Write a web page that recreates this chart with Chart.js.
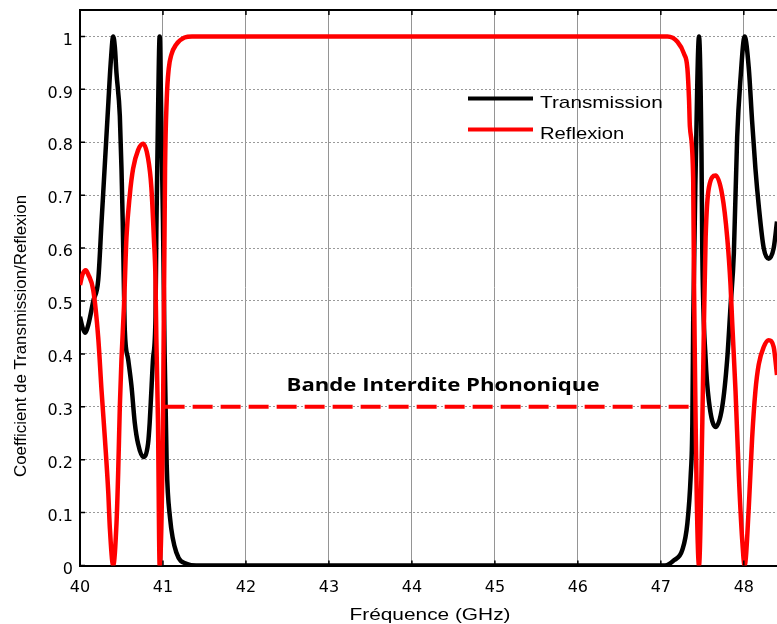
<!DOCTYPE html>
<html>
<head>
<meta charset="utf-8">
<script src="https://cdn.jsdelivr.net/npm/chart.js@4.4.1/dist/chart.umd.min.js"></script>
<style>
    html, body { margin: 0; padding: 0; background: #fff; }
    #wrap { width: 777px; height: 624px; position: relative; }
</style>
</head>
<body>
<div id="wrap"><canvas id="myChart"></canvas></div>
<script>
// Transmission (black curve)
const freqT = [40.00, 40.03, 40.06, 40.10, 40.16, 40.22, 40.26, 40.30, 40.34, 40.37, 40.40, 40.42, 40.44, 40.48, 40.50,
    40.515, 40.53, 40.54, 40.58, 40.62, 40.66, 40.70, 40.76, 40.82, 40.84, 40.86, 40.88, 40.91, 40.92, 40.94, 40.96,
    40.98, 41.00, 41.02, 41.045, 41.085, 41.165, 41.29, 41.40, 47.05, 47.16, 47.26, 47.32, 47.36, 47.38, 47.39, 47.42,
    47.46, 47.49, 47.50, 47.54, 47.58, 47.66, 47.74, 47.80, 47.84, 47.88, 47.92, 47.96, 48.01, 48.06, 48.10, 48.14,
    48.18, 48.24, 48.30, 48.36, 48.40];
const transmission = [0.47, 0.45, 0.44, 0.455, 0.50, 0.54, 0.65, 0.76, 0.87, 0.95, 1.00, 0.98, 0.93, 0.85, 0.75,
    0.65, 0.52, 0.445, 0.39, 0.34, 0.27, 0.23, 0.205, 0.23, 0.27, 0.33, 0.39, 0.47, 0.63, 0.85, 1.00,
    0.84, 0.65, 0.40, 0.19, 0.09, 0.023, 0.003, 0, 0, 0.01, 0.03, 0.08, 0.17, 0.27, 0.46, 0.75,
    1.00, 0.78, 0.59, 0.39, 0.31, 0.262, 0.30, 0.39, 0.49, 0.59, 0.81, 0.92, 1.00, 0.94, 0.84, 0.75,
    0.68, 0.60, 0.58, 0.60, 0.65];

// Reflexion (red curve)
const freqR = [40.00, 40.03, 40.07, 40.10, 40.16, 40.22, 40.26, 40.30, 40.34, 40.36, 40.40, 40.44, 40.46, 40.48, 40.50,
    40.53, 40.56, 40.60, 40.64, 40.70, 40.76, 40.82, 40.86, 40.89, 40.91, 40.92, 40.94, 40.96, 41.00, 41.025, 41.045,
    41.07, 41.10, 41.16, 41.26, 41.35, 47.08, 47.20, 47.28, 47.32, 47.34, 47.35, 47.39, 47.40, 47.46, 47.50, 47.52,
    47.54, 47.58, 47.66, 47.74, 47.80, 47.84, 47.86, 47.90, 47.94, 47.98, 48.01, 48.06, 48.10, 48.14, 48.18, 48.24,
    48.30, 48.36, 48.40];
const reflexion = [0.53, 0.55, 0.558, 0.55, 0.52, 0.43, 0.33, 0.24, 0.14, 0.07, 0.00, 0.08, 0.175, 0.30, 0.39,
    0.49, 0.62, 0.70, 0.75, 0.785, 0.797, 0.77, 0.715, 0.62, 0.54, 0.43, 0.27, 0.00, 0.27, 0.75, 0.88,
    0.94, 0.965, 0.985, 0.998, 1.00, 1.00, 0.99, 0.967, 0.94, 0.88, 0.83, 0.73, 0.53, 0.00, 0.27, 0.46,
    0.62, 0.715, 0.737, 0.70, 0.62, 0.53, 0.46, 0.33, 0.17, 0.05, 0.00, 0.11, 0.24, 0.33, 0.38, 0.413,
    0.426, 0.413, 0.36];

// phononic band gap marker
const bandFreq = [41.02, 47.38];
const bandLevel = [0.3, 0.3];
const bandLabel = 'Bande Interdite Phononique';

const xTickValues = [40, 41, 42, 43, 44, 45, 46, 47, 48];
const yTickValues = [0, 0.1, 0.2, 0.3, 0.4, 0.5, 0.6, 0.7, 0.8, 0.9, 1];

const xTitle = 'Fréquence (GHz)';
const yTitle = 'Coefficient de Transmission/Reflexion';

function toPoints(xs, ys) {
    return xs.map((x, i) => ({ x: x, y: ys[i] }));
}

// draw a text squeezed/stretched to a given width
function fitText(ctx, text, x, y, font, width, align, angle) {
    ctx.save();
    ctx.font = font;
    const w = ctx.measureText(text).width;
    ctx.translate(x, y);
    if (angle) ctx.rotate(angle);
    ctx.scale(width / w, 1);
    ctx.textAlign = align;
    ctx.textBaseline = 'alphabetic';
    ctx.fillStyle = '#000';
    ctx.fillText(text, 0, 0);
    ctx.restore();
}

const decorPlugin = {
    id: 'decor',
    afterDraw(chart) {
        const ctx = chart.ctx;
        const area = chart.chartArea;
        const xs = chart.scales.x, ys = chart.scales.y;

        ctx.save();
        // top frame line
        ctx.strokeStyle = '#000';
        ctx.lineWidth = 2;
        ctx.beginPath();
        ctx.moveTo(area.left, area.top);
        ctx.lineTo(area.right, area.top);
        ctx.stroke();

        // inner tick marks
        ctx.lineWidth = 1.5;
        ctx.beginPath();
        xs.ticks.forEach(t => {
            const px = xs.getPixelForValue(t.value);
            ctx.moveTo(px, area.bottom); ctx.lineTo(px, area.bottom - 5);
            ctx.moveTo(px, area.top); ctx.lineTo(px, area.top + 5);
        });
        ys.ticks.forEach(t => {
            const py = ys.getPixelForValue(t.value);
            ctx.moveTo(area.left, py); ctx.lineTo(area.left + 5, py);
        });
        ctx.stroke();

        // legend
        const legendRows = [[0, 98.5, 108.3, 122.7], [1, 129.5, 139.3, 84.3]];
        legendRows.forEach(r => {
            const ds = chart.data.datasets[r[0]];
            ctx.strokeStyle = ds.borderColor;
            ctx.lineWidth = 4;
            ctx.beginPath();
            ctx.moveTo(468, r[1]);
            ctx.lineTo(533, r[1]);
            ctx.stroke();
            fitText(ctx, ds.label, 540, r[2], '17px "Liberation Sans"', r[3], 'left');
        });
        ctx.restore();

        // band gap label
        fitText(ctx, bandLabel, 443, 390.5, 'bold 18px "Open Sans"', 313, 'center');

        // axis titles
        fitText(ctx, xTitle, 430, 619.5, '16px "Liberation Sans"', 161, 'center');
        fitText(ctx, yTitle, 26, 336, '17px "Liberation Sans"', 282, 'center', -Math.PI / 2);
    }
};

var ctx = document.getElementById('myChart').getContext('2d');
var myChart = new Chart(ctx, {
    type: 'line',
    data: {
        datasets: [{
            label: 'Transmission',
            data: toPoints(freqT, transmission),
            borderColor: '#000000',
            borderWidth: 4.5,
            pointRadius: 0,
            cubicInterpolationMode: 'monotone',
            order: 2
        }, {
            label: 'Reflexion',
            data: toPoints(freqR, reflexion),
            borderColor: '#ff0000',
            borderWidth: 4.5,
            pointRadius: 0,
            cubicInterpolationMode: 'monotone',
            order: 1
        }, {
            label: 'band',
            data: toPoints(bandFreq, bandLevel),
            borderColor: '#ff0000',
            borderWidth: 4,
            borderDash: [20, 8],
            pointRadius: 0,
            order: 0
        }]
    },
    options: {
        responsive: true,
        maintainAspectRatio: false,
        animation: false,
        layout: { padding: { top: 10, left: 0, right: 0, bottom: 0 } },
        plugins: {
            legend: { display: false },
            tooltip: { enabled: false }
        },
        scales: {
            x: {
                type: 'linear',
                min: 40,
                max: 48.4,
                afterBuildTicks: scale => { scale.ticks = xTickValues.map(v => ({ value: v })); },
                afterFit: scale => { scale.height = 58.5; },
                ticks: {
                    color: '#000',
                    padding: 13,
                    font: { family: 'DejaVu Sans', size: 16 },
                    callback: v => String(v)
                },
                grid: { color: '#959595', lineWidth: 1, drawTicks: false },
                border: { color: '#000', width: 2 }
            },
            y: {
                type: 'linear',
                min: 0,
                max: 1.05,
                afterBuildTicks: scale => { scale.ticks = yTickValues.map(v => ({ value: v })); },
                afterFit: scale => {
                    scale.width = 80;
                    scale.paddingTop = 0;
                    scale.paddingBottom = 0;
                },
                ticks: {
                    color: '#000',
                    padding: 7,
                    labelOffset: 4,
                    font: { family: 'DejaVu Sans', size: 16 },
                    callback: v => String(v)
                },
                grid: { color: '#9a9a9a', lineWidth: 1, drawTicks: false },
                border: { color: '#000', width: 2, dash: [2, 2] }
            }
        }
    },
    plugins: [decorPlugin]
});
</script>
</body>
</html>
